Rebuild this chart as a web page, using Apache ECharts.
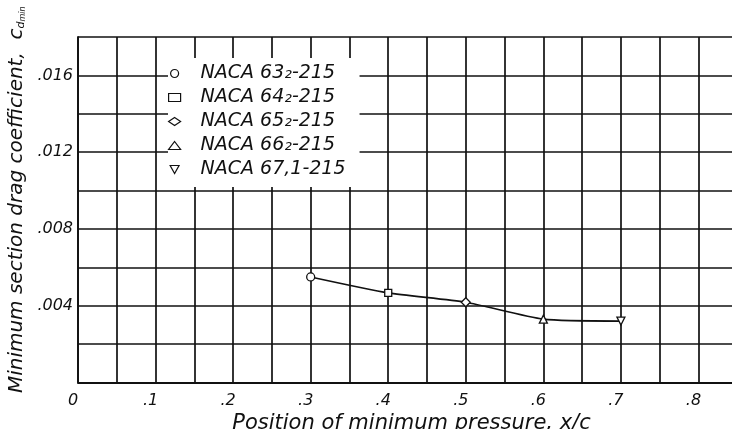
<!DOCTYPE html>
<html>
<head>
<meta charset="utf-8">
<script src="https://cdn.jsdelivr.net/npm/echarts@6/dist/echarts.min.js"></script>
<style>
  html, body { margin: 0; padding: 0; background: #fff; }
  #chart { width: 732px; height: 429px; }
</style>
</head>
<body>
<div id="chart"></div>
<script>
// Airfoil sections and their position of minimum pressure (x/c)
const sections = ['NACA 63\u2082-215', 'NACA 64\u2082-215', 'NACA 65\u2082-215', 'NACA 66\u2082-215', 'NACA 67,1-215'];
const minPressurePos = [0.3, 0.4, 0.5, 0.6, 0.7];
// Minimum section drag coefficient, c_dmin
const dragMin = [0.0055, 0.00467, 0.00418, 0.0033, 0.0032];
const symbols = ['circle', 'rect', 'diamond', 'triangle', 'path://M0,0L10,0L5,9Z'];
const symbolSizes = [8, 7, 9, 8, 8];

// Tick labels
const xTickValues = [0, 0.1, 0.2, 0.3, 0.4, 0.5, 0.6, 0.7, 0.8];
const xTickLabels = ['0', '.1', '.2', '.3', '.4', '.5', '.6', '.7', '.8'];
const yTickValues = [0.004, 0.008, 0.012, 0.016];
const yTickLabels = ['.004', '.008', '.012', '.016'];

const FONT = 'DejaVu Sans';
const INK = '#111';

function lookup(values, labels, v) {
  for (let i = 0; i < values.length; i++) {
    if (Math.abs(values[i] - v) < 1e-6) return labels[i];
  }
  return '';
}

const chart = echarts.init(document.getElementById('chart'), null, { renderer: 'canvas' });

const series = [{
  type: 'line',
  data: minPressurePos.map((x, i) => [x, dragMin[i]]),
  smooth: 0.2,
  showSymbol: false,
  symbol: 'none',
  silent: true,
  lineStyle: { color: INK, width: 1.6 },
  z: 3
}];
sections.forEach((name, i) => {
  series.push({
    type: 'scatter',
    name: name,
    data: [[minPressurePos[i], dragMin[i]]],
    symbol: symbols[i],
    symbolSize: symbolSizes[i],
    itemStyle: { color: '#fff', borderColor: INK, borderWidth: 1.3, opacity: 1 },
    z: 5
  });
});

chart.setOption({
  animation: false,
  backgroundColor: '#fff',
  grid: { left: 78, top: 37, right: -13, bottom: 46.5, outerBoundsMode: 'none', containLabel: false },
  legend: {
    data: sections,
    orient: 'vertical',
    left: 168,
    top: 58,
    padding: [6, 14, 8, 0],
    backgroundColor: '#fff',
    itemWidth: 12,
    itemHeight: 8,
    itemGap: 5,
    inactiveColor: INK,
    selectedMode: false,
    itemStyle: { borderWidth: 1.2 },
    textStyle: {
      fontFamily: FONT, fontStyle: 'italic', fontWeight: 300,
      fontSize: 19, color: INK,
      padding: [0, 0, 0, 15]
    },
    z: 10
  },
  xAxis: {
    type: 'value',
    min: 0,
    max: 0.86,
    interval: 0.05,
    name: 'Position of minimum pressure, x/c',
    nameLocation: 'middle',
    nameGap: 19,
    nameTextStyle: { fontFamily: FONT, fontStyle: 'italic', fontWeight: 300, fontSize: 21, color: INK },
    axisLine: { show: true, onZero: false, lineStyle: { color: INK, width: 1.8 } },
    axisTick: { show: false },
    axisLabel: {
      margin: 10,
      fontFamily: FONT, fontStyle: 'italic', fontWeight: 300, fontSize: 16, color: INK,
      padding: [0, 10, 0, 0],
      formatter: v => lookup(xTickValues, xTickLabels, v)
    },
    splitLine: { show: true, lineStyle: { color: INK, width: 1.7 } }
  },
  yAxis: {
    type: 'value',
    min: 0,
    max: 0.018,
    interval: 0.002,
    name: '{t|Minimum section drag coefficient,  c}{d|d}{m|min}',
    nameLocation: 'middle',
    nameRotate: 90,
    nameGap: 48,
    nameTextStyle: {
      padding: [0, 0, 0, 20],
      rich: {
        t: { fontFamily: FONT, fontStyle: 'italic', fontWeight: 300, fontSize: 20, color: INK },
        d: { fontFamily: FONT, fontStyle: 'italic', fontSize: 11, color: INK, verticalAlign: 'bottom', padding: [6, 0, 0, 0] },
        m: { fontFamily: FONT, fontStyle: 'italic', fontSize: 8, color: INK, verticalAlign: 'bottom', padding: [9, 0, 0, 0] }
      }
    },
    axisLine: { show: true, lineStyle: { color: INK, width: 1.8 } },
    axisTick: { show: false },
    axisLabel: {
      margin: 5,
      fontFamily: FONT, fontStyle: 'italic', fontWeight: 300, fontSize: 16, color: INK,
      formatter: v => lookup(yTickValues, yTickLabels, v)
    },
    splitLine: { show: true, lineStyle: { color: INK, width: 1.7 } }
  },
  series: series
});
</script>
</body>
</html>
